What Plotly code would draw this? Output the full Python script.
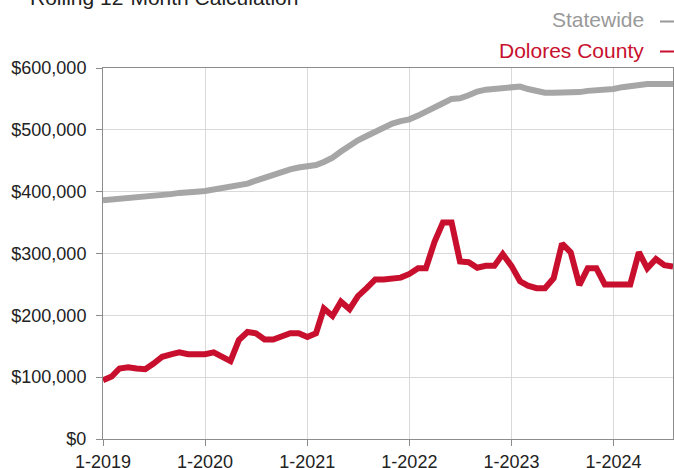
import plotly.graph_objects as go
import pandas as pd

# Monthly dates, Jan 2019 .. Aug 2024
months = pd.date_range("2019-01-01", periods=68, freq="MS")

statewide = [
    386000, 387000, 388000, 389000, 390000, 391000, 393000, 395000, 396000, 398000, 400000, 400000,
    401000, 403000, 406000, 407000, 409000, 413000, 418000, 423000, 428000, 432000, 436000, 439000,
    440000, 443000, 448000, 455000, 465000, 475000, 483000, 490000, 497000, 504000, 510000, 514000,
    517000, 523000, 530000, 537000, 543000, 550000, 551000, 556000, 562000, 565000, 566000, 569000,
    570000, 570000, 566000, 563000, 560000, 560000, 560000, 560000, 561000, 563000, 564000, 564000,
    566000, 569000, 571000, 574000, 574000, 574000, 574000, 574000,
]

dolores = [
    95000, 101000, 114000, 116000, 114000, 113000, 122000, 133000, 137000, 140000, 137000, 137000,
    137000, 140000, 134000, 126000, 160000, 173000, 171000, 161000, 161000, 166000, 171000, 171000,
    165000, 171000, 211000, 199000, 222000, 210000, 231000, 244000, 258000, 258000, 260000, 261000,
    267000, 276000, 276000, 319000, 350000, 350000, 287000, 286000, 277000, 280000, 280000, 299000,
    280000, 255000, 248000, 244000, 244000, 260000, 316000, 302000, 249000, 276000, 276000, 250000,
    250000, 250000, 250000, 302000, 276000, 291000, 281000, 279000,
]

x_tick_vals = ["2019-01-01", "2020-01-01", "2021-01-01", "2022-01-01", "2023-01-01", "2024-01-01"]
x_tick_text = ["1-2019", "1-2020", "1-2021", "1-2022", "1-2023", "1-2024"]
y_tick_vals = [0, 100000, 200000, 300000, 400000, 500000, 600000]
y_tick_text = ["$0", "$100,000", "$200,000", "$300,000", "$400,000", "$500,000", "$600,000"]

GRAY = "#a6a6a6"
RED = "#c8102e"
FONT = "Liberation Sans, Arial, Helvetica, sans-serif"

W, H = 674, 468
ML, MR, MT, MB = 103, 1, 68, 29
PW = W - ML - MR
PH = H - MT - MB


def px_x(px):
    return (px - ML) / PW


def px_y(py):
    return (H - MB - py) / PH


fig = go.Figure()
fig.add_trace(go.Scatter(x=months, y=statewide, mode="lines", name="Statewide",
                         line=dict(color=GRAY, width=6), showlegend=False))
fig.add_trace(go.Scatter(x=months, y=dolores, mode="lines", name="Dolores County",
                         line=dict(color=RED, width=6), showlegend=False))

fig.update_layout(
    width=W, height=H,
    margin=dict(l=ML, r=MR, t=MT, b=MB, pad=0, autoexpand=False),
    paper_bgcolor="white", plot_bgcolor="white",
    font=dict(family=FONT, size=18, color="#222222"),
    showlegend=False,
)

fig.update_xaxes(
    range=["2019-01-01", "2024-08-01"],
    tickvals=x_tick_vals, ticktext=x_tick_text,
    showgrid=True, gridcolor="#d9d9d9", gridwidth=1,
    showline=True, linecolor="#8c8c8c", linewidth=1, mirror=True,
    ticks="outside", ticklen=6, tickcolor="#8c8c8c",
    tickfont=dict(size=18, color="#222222"),
    zeroline=False, automargin=False,
)
fig.update_yaxes(
    range=[0, 600000],
    tickvals=y_tick_vals, ticktext=y_tick_text,
    showgrid=True, gridcolor="#d9d9d9", gridwidth=1,
    showline=True, linecolor="#8c8c8c", linewidth=1, mirror=True,
    ticks="outside", ticklen=6, tickcolor="#8c8c8c",
    tickfont=dict(size=18, color="#222222"),
    ticklabelstandoff=6,
    zeroline=False, automargin=False,
)

annotations = [
    dict(text="Rolling 12-Month Calculation", xref="paper", yref="paper",
         x=px_x(28), y=px_y(11), xanchor="left", yanchor="bottom", showarrow=False,
         font=dict(family=FONT, size=21, color="#222222")),
    dict(text="Statewide", xref="paper", yref="paper",
         x=px_x(646), y=px_y(19), xanchor="right", yanchor="middle", showarrow=False,
         font=dict(family=FONT, size=21, color="#999999")),
    dict(text="Dolores County", xref="paper", yref="paper",
         x=px_x(646), y=px_y(50.5), xanchor="right", yanchor="middle", showarrow=False,
         font=dict(family=FONT, size=21, color=RED)),
]
fig.update_layout(annotations=annotations)

fig.add_shape(type="line", xref="paper", yref="paper",
              x0=px_x(660), x1=px_x(680), y0=px_y(21.5), y1=px_y(21.5),
              line=dict(color="#999999", width=2))
fig.add_shape(type="line", xref="paper", yref="paper",
              x0=px_x(660), x1=px_x(680), y0=px_y(51.5), y1=px_y(51.5),
              line=dict(color=RED, width=2))

fig.write_html("out.html",
               config={"displayModeBar": False},
               post_script="document.body.style.margin='0';document.body.style.overflow='hidden';")
